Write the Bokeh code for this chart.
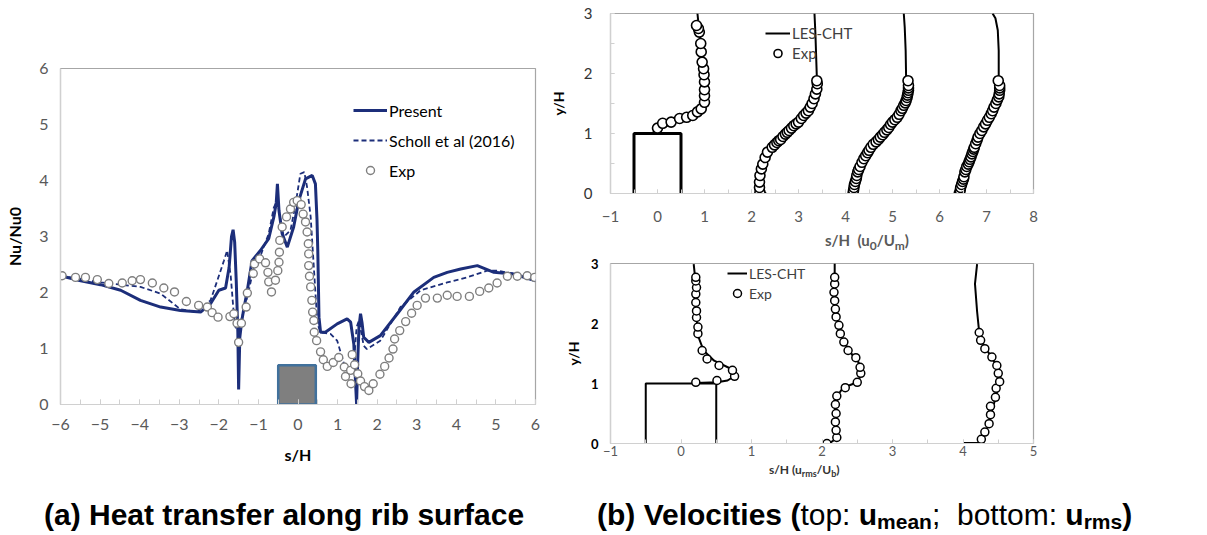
from bokeh.plotting import figure
from bokeh.models import (Range1d, FixedTicker, Legend, LegendItem, Div)
from bokeh.layouts import column, row
from bokeh.embed import file_html
from bokeh.resources import INLINE

# ---------------- (a) Heat transfer data ----------------
present_s = [-6.0, -5.49, -4.99, -4.48, -3.98, -3.47, -2.97, -2.46, -2.21, -2.0, -1.83, -1.74, -1.68,
             -1.64, -1.60, -1.56, -1.52, -1.50, -1.47, -1.42, -1.37, -1.28, -1.16, -0.95, -0.74, -0.61,
             -0.55, -0.52, -0.48, -0.40, -0.27, -0.11, 0.02, 0.19, 0.36, 0.44, 0.48, 0.50, 0.53, 0.57,
             0.69, 0.99, 1.24, 1.33, 1.41, 1.46, 1.48, 1.51, 1.54, 1.58, 1.62, 1.66, 1.79, 2.08, 2.51,
             2.93, 3.43, 3.77, 4.11, 4.53, 4.95, 5.45, 6.0]
present_nu = [2.30, 2.21, 2.14, 2.04, 1.86, 1.74, 1.68, 1.65, 1.80, 2.04, 2.08, 2.45, 3.0,
              3.12, 2.9, 2.2, 1.3, 0.27, 1.2, 1.5, 1.70, 2.04, 2.57, 2.75, 2.96, 3.35,
              3.6, 3.94, 3.46, 3.05, 2.81, 3.17, 3.64, 4.03, 4.09, 3.94, 3.3, 2.75, 1.56, 1.29,
              1.29, 1.44, 1.53, 1.47, 1.08, 0.3, 0.01, 0.8, 1.38, 1.62, 1.45, 1.20, 1.11, 1.23, 1.62,
              2.01, 2.27, 2.36, 2.42, 2.48, 2.36, 2.33, 2.21]

scholl_s = [-6.0, -4.99, -3.98, -3.47, -2.97, -2.55, -2.21, -2.04, -1.87, -1.79, -1.70, -1.62, -1.58,
            -1.50, -1.37, -1.24, -1.12, -0.93, -0.74, -0.61, -0.52, -0.44, -0.36, -0.19, -0.06, 0.06,
            0.16, 0.23, 0.32, 0.40, 0.49, 0.57, 0.82, 0.99, 1.16, 1.33, 1.43, 1.48, 1.54, 1.66, 1.74,
            2.08, 2.59, 3.10, 3.77, 4.27, 4.78, 5.03, 5.5, 6.0]
scholl_nu = [2.30, 2.18, 2.10, 1.98, 1.70, 1.65, 1.86, 2.21, 2.57, 2.75, 2.3, 1.6, 1.38,
             1.32, 1.68, 2.04, 2.45, 2.69, 3.05, 3.52, 3.64, 3.29, 2.99, 3.11, 3.58, 4.12,
             4.15, 3.88, 3.35, 2.45, 1.44, 1.29, 1.26, 1.14, 0.73, 0.61, 0.9, 1.38, 1.50, 1.05, 0.99,
             1.14, 1.74, 2.04, 2.18, 2.27, 2.39, 2.39, 2.33, 2.21]

exp_s = [-5.96, -5.62, -5.37, -5.07, -4.78, -4.44, -4.19, -3.98, -3.68, -3.39, -3.12, -2.82, -2.51,
         -2.29, -2.17, -2.02, -1.72, -1.62, -1.54, -1.43, -1.50, -1.31, -1.28, -1.13, -1.10, -0.97,
         -0.82, -0.76, -0.74, -0.67, -0.57, -0.51, -0.48, -0.47, -0.46, -0.40, -0.29, -0.19, -0.11,
         -0.02, 0.08, 0.13, 0.19, 0.23, 0.26, 0.27, 0.27, 0.29, 0.32, 0.35, 0.37, 0.40, 0.41, 0.47,
         0.57, 0.64, 0.74, 0.89, 1.03, 1.17, 1.20, 1.33, 1.34, 1.37, 1.43, 1.51, 1.58, 1.68, 1.79,
         1.90, 2.07, 2.19, 2.30, 2.40, 2.44, 2.57, 2.72, 2.87, 3.01, 3.22, 3.52, 3.77, 4.02, 4.33,
         4.59, 4.82, 5.03, 5.29, 5.54, 5.79, 5.98]
exp_nu = [2.30, 2.27, 2.27, 2.23, 2.16, 2.17, 2.21, 2.23, 2.17, 2.08, 2.01, 1.84, 1.77,
          1.74, 1.64, 1.56, 1.57, 1.62, 1.45, 1.45, 1.11, 1.74, 1.99, 2.34, 2.51, 2.60,
          2.53, 2.36, 2.19, 2.01, 2.22, 2.39, 2.54, 2.72, 2.93, 3.17, 3.35, 3.49, 3.61,
          3.64, 3.57, 3.40, 3.26, 3.08, 2.87, 2.69, 2.48, 2.29, 2.10, 1.86, 1.65, 1.50, 1.29, 1.14,
          0.94, 0.80, 0.68, 0.75, 0.84, 0.67, 0.50, 0.61, 0.37, 0.89, 0.71, 0.55, 0.42, 0.32, 0.25,
          0.37, 0.54, 0.68, 0.83, 0.99, 1.17, 1.32, 1.48, 1.63, 1.77, 1.90, 1.90, 1.95, 1.93, 1.93,
          2.02, 2.08, 2.17, 2.29, 2.29, 2.30, 2.27]

rib_a_left = [-0.5]
rib_a_right = [0.45]
rib_a_top = [0.7]

a_xticks = [-6, -5, -4, -3, -2, -1, 0, 1, 2, 3, 4, 5, 6]
a_yticks = [0, 1, 2, 3, 4, 5, 6]

# ---------------- (b) top: mean velocity profiles ----------------
rib_b_x = [-0.5, -0.5, 0.5, 0.5]
rib_b_y = [0, 1, 1, 0]

m_les1_x = [-0.10, 0.21, 0.57, 0.83, 0.95, 0.98, 0.96, 0.93, 0.88, 0.85]
m_les1_y = [1.02, 1.13, 1.25, 1.33, 1.50, 1.83, 2.11, 2.44, 2.77, 3.0]
m_exp1_x = [0.0, 0.11, 0.29, 0.47, 0.62, 0.75, 0.85, 0.93, 1.0, 1.0, 1.0, 1.0, 0.99, 0.98, 0.95,
            0.93, 0.92, 0.89, 0.87, 0.83]
m_exp1_y = [1.09, 1.17, 1.19, 1.25, 1.27, 1.30, 1.36, 1.41, 1.52, 1.63, 1.73, 1.86, 1.98, 2.08, 2.19,
            2.36, 2.50, 2.69, 2.75, 2.80]

m_les2_x = [2.31, 2.22, 2.19, 2.20, 2.24, 2.34, 2.54, 2.72, 2.90, 3.11, 3.29, 3.37, 3.40, 3.39, 3.36, 3.34]
m_les2_y = [0.0, 0.05, 0.2, 0.4, 0.5, 0.69, 0.85, 0.99, 1.13, 1.30, 1.50, 1.70, 1.85, 1.94, 2.66, 3.0]
m_exp2_x = [2.18, 2.17, 2.17, 2.18, 2.21, 2.24, 2.29, 2.34, 2.44, 2.49, 2.54, 2.58, 2.62, 2.67, 2.72,
            2.76, 2.80, 2.85, 2.90, 2.95, 3.0, 3.06, 3.11, 3.16, 3.21, 3.25, 3.29, 3.33, 3.36, 3.39,
            3.40, 3.39]
m_exp2_y = [0.02, 0.1, 0.19, 0.30, 0.41, 0.49, 0.60, 0.69, 0.77, 0.81, 0.85, 0.88, 0.90, 0.95, 0.99,
            1.02, 1.05, 1.09, 1.13, 1.16, 1.19, 1.25, 1.30, 1.34, 1.38, 1.44, 1.50, 1.58, 1.66, 1.74,
            1.83, 1.88]

m_les3_x = [4.22, 4.18, 4.24, 4.39, 4.54, 4.83, 5.0, 5.18, 5.29, 5.34, 5.33, 5.29, 5.28, 5.26, 5.24]
m_les3_y = [0.0, 0.1, 0.33, 0.58, 0.77, 1.02, 1.19, 1.38, 1.55, 1.72, 1.86, 1.91, 2.38, 2.77, 3.0]
m_exp3_x = [4.16, 4.17, 4.18, 4.19, 4.21, 4.23, 4.24, 4.26, 4.28, 4.31, 4.35, 4.39, 4.43, 4.47, 4.50,
            4.54, 4.59, 4.65, 4.70, 4.74, 4.79, 4.83, 4.88, 4.92, 4.96, 5.0, 5.05, 5.10, 5.14, 5.18,
            5.21, 5.24, 5.27, 5.29, 5.31, 5.32, 5.33, 5.34, 5.34, 5.34, 5.33]
m_exp3_y = [0.0, 0.05, 0.1, 0.15, 0.2, 0.25, 0.3, 0.36, 0.40, 0.45, 0.52, 0.58, 0.63, 0.68, 0.72,
            0.77, 0.82, 0.86, 0.90, 0.94, 0.98, 1.02, 1.06, 1.10, 1.15, 1.19, 1.23, 1.27, 1.32, 1.38,
            1.42, 1.47, 1.51, 1.55, 1.60, 1.64, 1.68, 1.72, 1.76, 1.80, 1.88]

m_les4_x = [6.45, 6.54, 6.67, 6.82, 6.98, 7.13, 7.26, 7.28, 7.26, 7.26, 7.24, 7.19, 7.13]
m_les4_y = [0.0, 0.36, 0.61, 0.94, 1.16, 1.38, 1.61, 1.72, 1.97, 2.38, 2.72, 2.92, 3.0]
m_exp4_x = [6.42, 6.44, 6.45, 6.47, 6.49, 6.51, 6.52, 6.54, 6.56, 6.58, 6.61, 6.63, 6.65, 6.67, 6.69,
            6.71, 6.73, 6.74, 6.77, 6.80, 6.82, 6.86, 6.90, 6.94, 6.98, 7.02, 7.06, 7.10, 7.13, 7.16,
            7.20, 7.23, 7.26, 7.27, 7.28, 7.28, 7.28, 7.25]
m_exp4_y = [0.0, 0.05, 0.1, 0.15, 0.2, 0.24, 0.28, 0.36, 0.40, 0.45, 0.49, 0.53, 0.57, 0.61, 0.66,
            0.70, 0.74, 0.77, 0.83, 0.89, 0.94, 1.0, 1.05, 1.11, 1.16, 1.22, 1.27, 1.33, 1.38, 1.44,
            1.50, 1.56, 1.61, 1.66, 1.72, 1.76, 1.80, 1.88]

bt_xticks = [-1, 0, 1, 2, 3, 4, 5, 6, 7, 8]
bt_yticks = [0, 1, 2, 3]

# ---------------- (b) bottom: rms velocity profiles ----------------
r_les1_x = [0.21, 0.51, 0.66, 0.77, 0.70, 0.47, 0.32, 0.25, 0.22, 0.21, 0.18]
r_les1_y = [1.01, 1.02, 1.05, 1.13, 1.25, 1.38, 1.55, 1.77, 2.10, 2.66, 2.99]
r_exp1_x = [0.21, 0.51, 0.76, 0.73, 0.54, 0.37, 0.30, 0.24, 0.24, 0.22, 0.22, 0.21, 0.21, 0.22, 0.21, 0.21]
r_exp1_y = [1.02, 1.05, 1.12, 1.22, 1.30, 1.41, 1.55, 1.83, 1.94, 2.10, 2.21, 2.35, 2.49, 2.60, 2.71, 2.77]

r_les2_x = [2.10, 2.20, 2.21, 2.20, 2.22, 2.30, 2.50, 2.56, 2.52, 2.38, 2.27, 2.21, 2.18, 2.18]
r_les2_y = [0.0, 0.08, 0.3, 0.6, 0.8, 0.93, 1.02, 1.15, 1.35, 1.55, 1.8, 2.1, 2.5, 3.0]
r_exp2_x = [2.07, 2.21, 2.20, 2.19, 2.20, 2.19, 2.21, 2.33, 2.50, 2.55, 2.54, 2.48, 2.37, 2.31, 2.26,
            2.24, 2.20, 2.19, 2.18, 2.17, 2.18, 2.18]
r_exp2_y = [0.0, 0.1, 0.22, 0.36, 0.5, 0.65, 0.79, 0.93, 1.02, 1.17, 1.27, 1.43, 1.55, 1.69, 1.83,
            1.97, 2.11, 2.24, 2.38, 2.52, 2.66, 2.77]

r_les3_x = [4.0, 4.26, 4.33, 4.40, 4.46, 4.50, 4.52, 4.50, 4.42, 4.30, 4.23, 4.20, 4.17, 4.20]
r_les3_y = [0.01, 0.01, 0.2, 0.5, 0.75, 0.95, 1.05, 1.2, 1.42, 1.62, 1.85, 2.2, 2.66, 2.99]
r_exp3_x = [4.26, 4.31, 4.37, 4.39, 4.39, 4.46, 4.47, 4.52, 4.50, 4.48, 4.41, 4.31, 4.25, 4.23]
r_exp3_y = [0.07, 0.19, 0.33, 0.48, 0.62, 0.77, 0.92, 1.03, 1.17, 1.30, 1.44, 1.58, 1.72, 1.85]

bb_xticks = [-1, 0, 1, 2, 3, 4, 5]
bb_yticks = [0, 1, 2, 3]

# ---------------- styling helpers ----------------
NAVY = "#1C2E7A"
TICK_GRAY = "#595959"
AX_GRAY = "#D0D0D0"
FONT = "Lato"


def base_fig(w, h, xr, yr, bl, br, bt, bb):
    p = figure(width=w, height=h, x_range=Range1d(*xr), y_range=Range1d(*yr),
               output_backend="svg", toolbar_location=None,
               min_border_left=bl, min_border_right=br, min_border_top=bt, min_border_bottom=bb)
    p.xgrid.visible = False
    p.ygrid.visible = False
    p.outline_line_color = "#A6A6A6"
    p.outline_line_width = 1.2
    p.background_fill_color = "white"
    p.border_fill_color = "white"
    for ax in (p.xaxis[0], p.yaxis[0]):
        ax.axis_line_color = AX_GRAY
        ax.axis_line_width = 1.2
        ax.major_tick_line_color = AX_GRAY
        ax.minor_tick_line_color = AX_GRAY
        ax.major_tick_out = 0
        ax.minor_tick_out = 0
        ax.major_label_text_font = FONT
        ax.axis_label_text_font = FONT
    return p


# ---------------- figure (a) ----------------
pa = base_fig(545, 490, (-6, 6), (0, 6), 60, 10, 68, 86)
pa.xaxis.ticker = FixedTicker(ticks=a_xticks, minor_ticks=[v / 2 for v in range(-12, 13)])
pa.xaxis.major_tick_in = 5
pa.xaxis.minor_tick_in = 5
pa.yaxis.ticker = FixedTicker(ticks=a_yticks)
pa.yaxis.major_tick_in = 0
pa.yaxis.minor_tick_in = 0
for ax in (pa.xaxis[0], pa.yaxis[0]):
    ax.major_label_text_color = TICK_GRAY
    ax.major_label_text_font_size = "16px"
    ax.axis_label_text_font_size = "16px"
    ax.axis_label_text_font_style = "bold"
    ax.axis_label_text_color = "black"
pa.xaxis.major_label_standoff = 14
pa.yaxis.major_label_standoff = 12
pa.xaxis.axis_label = "s/H"
pa.yaxis.axis_label = "Nu/Nu0"
pa.xaxis.axis_label_standoff = 12
pa.yaxis.axis_label_standoff = 12

pa.quad(left=rib_a_left, right=rib_a_right, bottom=[0], top=rib_a_top,
        fill_color="#7F7F7F", line_color="#41719C", line_width=2.5)
r_pres = pa.line(present_s, present_nu, line_color=NAVY, line_width=3)
r_sch = pa.line(scholl_s, scholl_nu, line_color=NAVY, line_width=1.8, line_dash="5 3")
r_exp = pa.scatter(exp_s, exp_nu, marker="circle", size=8, line_color="#7F7F7F",
                   line_width=1.4, fill_color="white")

leg_a = Legend(items=[LegendItem(label="Present", renderers=[r_pres]),
                      LegendItem(label="Scholl et al (2016)", renderers=[r_sch]),
                      LegendItem(label="Exp", renderers=[r_exp])],
               location=(293, 224), padding=0, margin=0, spacing=10,
               glyph_width=34, glyph_height=20, label_height=20, label_standoff=2,
               label_text_font=FONT, label_text_font_size="16px", label_text_color="black",
               border_line_alpha=0, background_fill_alpha=0)
pa.add_layout(leg_a)

# ---------------- figure (b) top ----------------
pt = base_fig(662, 230, (-1, 8), (0, 3), 63, 14, 13, 37)
pt.xaxis.ticker = FixedTicker(ticks=bt_xticks, minor_ticks=[v / 2 for v in range(-2, 17)])
pt.yaxis.ticker = FixedTicker(ticks=bt_yticks, minor_ticks=[v / 2 for v in range(0, 7)])
for ax in (pt.xaxis[0], pt.yaxis[0]):
    ax.major_tick_in = 4
    ax.minor_tick_in = 4
    ax.major_label_text_font_size = "15px"
pt.xaxis.major_label_text_color = TICK_GRAY
pt.yaxis.major_label_text_color = "#333333"
pt.xaxis.major_label_standoff = 17
pt.yaxis.major_label_standoff = 18
pt.yaxis.axis_label = "y/H"
pt.yaxis.axis_label_text_font_size = "14px"
pt.yaxis.axis_label_text_font_style = "bold"
pt.yaxis.axis_label_text_color = "black"
pt.yaxis.axis_label_standoff = 14

pt.line(rib_b_x, rib_b_y, line_color="black", line_width=3)
les_t = None
exp_t = None
for lx, ly, ex, ey in [(m_les1_x, m_les1_y, m_exp1_x, m_exp1_y),
                       (m_les2_x, m_les2_y, m_exp2_x, m_exp2_y),
                       (m_les3_x, m_les3_y, m_exp3_x, m_exp3_y),
                       (m_les4_x, m_les4_y, m_exp4_x, m_exp4_y)]:
    rl = pt.line(lx, ly, line_color="black", line_width=2)
    re_ = pt.scatter(ex, ey, marker="circle", size=10, line_color="black",
                     line_width=1.6, fill_color="white")
    if les_t is None:
        les_t, exp_t = rl, re_

leg_t = Legend(items=[LegendItem(label="LES-CHT", renderers=[les_t]),
                      LegendItem(label="Exp", renderers=[exp_t])],
               location=(155, 130), padding=0, margin=0, spacing=0,
               glyph_width=25, glyph_height=20, label_height=20, label_standoff=2,
               label_text_font=FONT, label_text_font_size="15px", label_text_color="#404040",
               border_line_alpha=0, background_fill_alpha=0)
pt.add_layout(leg_t)

div_xt = Div(width=662, height=25, margin=0,
             text=('<div style="font-family:Lato;font-weight:bold;font-size:15px;color:#595959;'
                   'white-space:nowrap;padding-left:280px;padding-top:1px;line-height:18px;">'
                   's/H&nbsp; (u<sub style="font-size:12px;line-height:0">0</sub>/U'
                   '<sub style="font-size:12px;line-height:0">m</sub>)</div>'))

# ---------------- figure (b) bottom ----------------
pb = base_fig(662, 207, (-1, 5), (0, 3), 65, 174, 8, 19)
pb.xaxis.ticker = FixedTicker(ticks=bb_xticks, minor_ticks=[v / 2 for v in range(-2, 11)])
pb.yaxis.ticker = FixedTicker(ticks=bb_yticks)
pb.xaxis.major_tick_in = 4
pb.xaxis.minor_tick_in = 4
pb.yaxis.major_tick_in = 0
for ax in (pb.xaxis[0], pb.yaxis[0]):
    ax.major_label_text_font_size = "13px"
pb.xaxis.major_label_text_color = TICK_GRAY
pb.yaxis.major_label_text_color = "black"
pb.yaxis.major_label_text_font_style = "bold"
pb.xaxis.major_label_standoff = 2
pb.yaxis.major_label_standoff = 12
pb.yaxis.axis_label = "y/H"
pb.yaxis.axis_label_text_font_size = "14px"
pb.yaxis.axis_label_text_font_style = "bold"
pb.yaxis.axis_label_text_color = "black"
pb.yaxis.axis_label_standoff = 6

pb.line(rib_b_x, rib_b_y, line_color="black", line_width=2)
les_b = None
exp_b = None
for lx, ly, ex, ey in [(r_les1_x, r_les1_y, r_exp1_x, r_exp1_y),
                       (r_les2_x, r_les2_y, r_exp2_x, r_exp2_y),
                       (r_les3_x, r_les3_y, r_exp3_x, r_exp3_y)]:
    rl = pb.line(lx, ly, line_color="black", line_width=2)
    re_ = pb.scatter(ex, ey, marker="circle", size=8, line_color="black",
                     line_width=1.5, fill_color="white")
    if les_b is None:
        les_b, exp_b = rl, re_

leg_b = Legend(items=[LegendItem(label="LES-CHT", renderers=[les_b]),
                      LegendItem(label="Exp", renderers=[exp_b])],
               location=(117, 140), padding=0, margin=0, spacing=0,
               glyph_width=20, glyph_height=20, label_height=20, label_standoff=2,
               label_text_font=FONT, label_text_font_size="14px", label_text_color="#404040",
               border_line_alpha=0, background_fill_alpha=0)
pb.add_layout(leg_b)

div_xb = Div(width=662, height=28, margin=0,
             text=('<div style="font-family:Lato;font-weight:bold;font-size:12px;color:#333333;'
                   'white-space:nowrap;padding-left:224px;padding-top:0px;line-height:12px;">'
                   's/H (u<sub style="font-size:9px;line-height:0">rms</sub>/U'
                   '<sub style="font-size:9px;line-height:0">b</sub>)</div>'))

# ---------------- captions ----------------
cap_style = ("font-family:'Liberation Sans';font-weight:bold;font-size:30px;white-space:nowrap;"
             "color:black;line-height:34px;padding-top:8px;")
sub_style = "font-size:21px;line-height:0;vertical-align:-4px;"
div_a = Div(width=545, height=45, margin=0,
            text=f'<div style="{cap_style}padding-left:44px;">(a) Heat transfer along rib surface</div>')
div_b = Div(width=662, height=45, margin=0,
            text=(f'<div style="{cap_style}padding-left:52px;">'
                  '(b) Velocities (<span style="font-weight:normal">top: </span>'
                  f'u<span style="{sub_style}">mean</span>'
                  '<span style="font-weight:normal">;&nbsp; bottom: </span>'
                  f'u<span style="{sub_style}">rms</span>)</div>'))

layout = column(row(pa, column(pt, div_xt, pb, div_xb)), row(div_a, div_b))

open("out.html", "w").write(file_html(layout, INLINE))
